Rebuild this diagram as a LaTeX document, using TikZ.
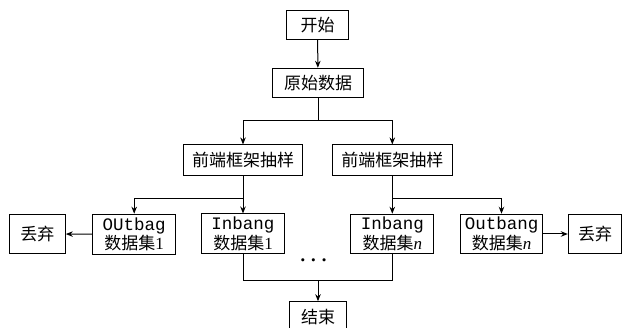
\documentclass[tikz,border=0pt]{standalone}
\usepackage{fontspec}
\setmainfont{Liberation Serif}
\newfontfamily\cjk{Noto Sans CJK SC}
\newfontfamily\monof{Liberation Mono}
\usetikzlibrary{arrows.meta}
\begin{document}
\begin{tikzpicture}[x=1pt,y=-1pt,
  box/.style={draw, line width=1pt, inner sep=0pt, font=\fontsize{17}{19.5}\selectfont\cjk, align=center},
  arr/.style={line width=1pt, -{Stealth[length=7pt,width=5.5pt]}},
  ln/.style={line width=1pt}]
\useasboundingbox (0,0) rectangle (623,328);
\node[box, minimum width=61.6pt, minimum height=29.3pt] (start) at (317.5,24.7) {开始};
\node[box, minimum width=90.6pt, minimum height=29pt] (raw) at (318,82.8) {原始数据};
\node[box, minimum width=119.4pt, minimum height=30.7pt] (fl) at (243,160.3) {前端框架抽样};
\node[box, minimum width=120pt, minimum height=30.7pt] (fr) at (392.3,160.3) {前端框架抽样};
\node[box, minimum width=56pt, minimum height=39.5pt] (discL) at (37.3,234) {丢弃};
\node[box, minimum width=83pt, minimum height=40pt] (out1) at (134.2,234.2) {{\monof\fontsize{17.5}{19.5}\selectfont OUtbag}\\数据集{\rmfamily 1}};
\node[box, minimum width=82.6pt, minimum height=40pt] (in1) at (243,234) {{\monof\fontsize{17.5}{19.5}\selectfont Inbang}\\数据集{\rmfamily 1}};
\node[box, minimum width=83.3pt, minimum height=39.5pt] (inn) at (392.3,234) {{\monof\fontsize{17.5}{19.5}\selectfont Inbang}\\数据集{\rmfamily\itshape n}};
\node[box, minimum width=81.6pt, minimum height=39.5pt] (outn) at (501.5,234) {{\monof\fontsize{17.5}{19.5}\selectfont Outbang}\\数据集{\rmfamily\itshape n}};
\node[box, minimum width=53.4pt, minimum height=39.5pt] (discR) at (595,234) {丢弃};
\node[box, minimum width=57.4pt, minimum height=30.6pt] (end) at (318,317) {结束};
\node[inner sep=0pt, font=\fontsize{20}{20}\selectfont\boldmath] (dots) at (313.5,261) {$\cdots$};
\coordinate (s1) at (318,120.7);
\coordinate (s2) at (243,198.3);
\coordinate (s3) at (392.3,198.3);
\coordinate (m) at (318,280.5);
\draw[arr] (start) -- (raw);
\draw[ln] (raw.south) -- (s1);
\draw[arr] (s1) -| (fl.north);
\draw[arr] (s1) -| (fr.north);
\draw[arr] (fl) -- (in1);
\draw[arr] (s2) -| (out1.north);
\draw[arr] (fr) -- (inn);
\draw[arr] (s3) -| (outn.north);
\draw[arr] (out1) -- (discL);
\draw[arr] (outn) -- (discR);
\draw[ln] (in1.south) |- (m) -| (inn.south);
\draw[arr] (m) -- (end);
\end{tikzpicture}
\end{document}
